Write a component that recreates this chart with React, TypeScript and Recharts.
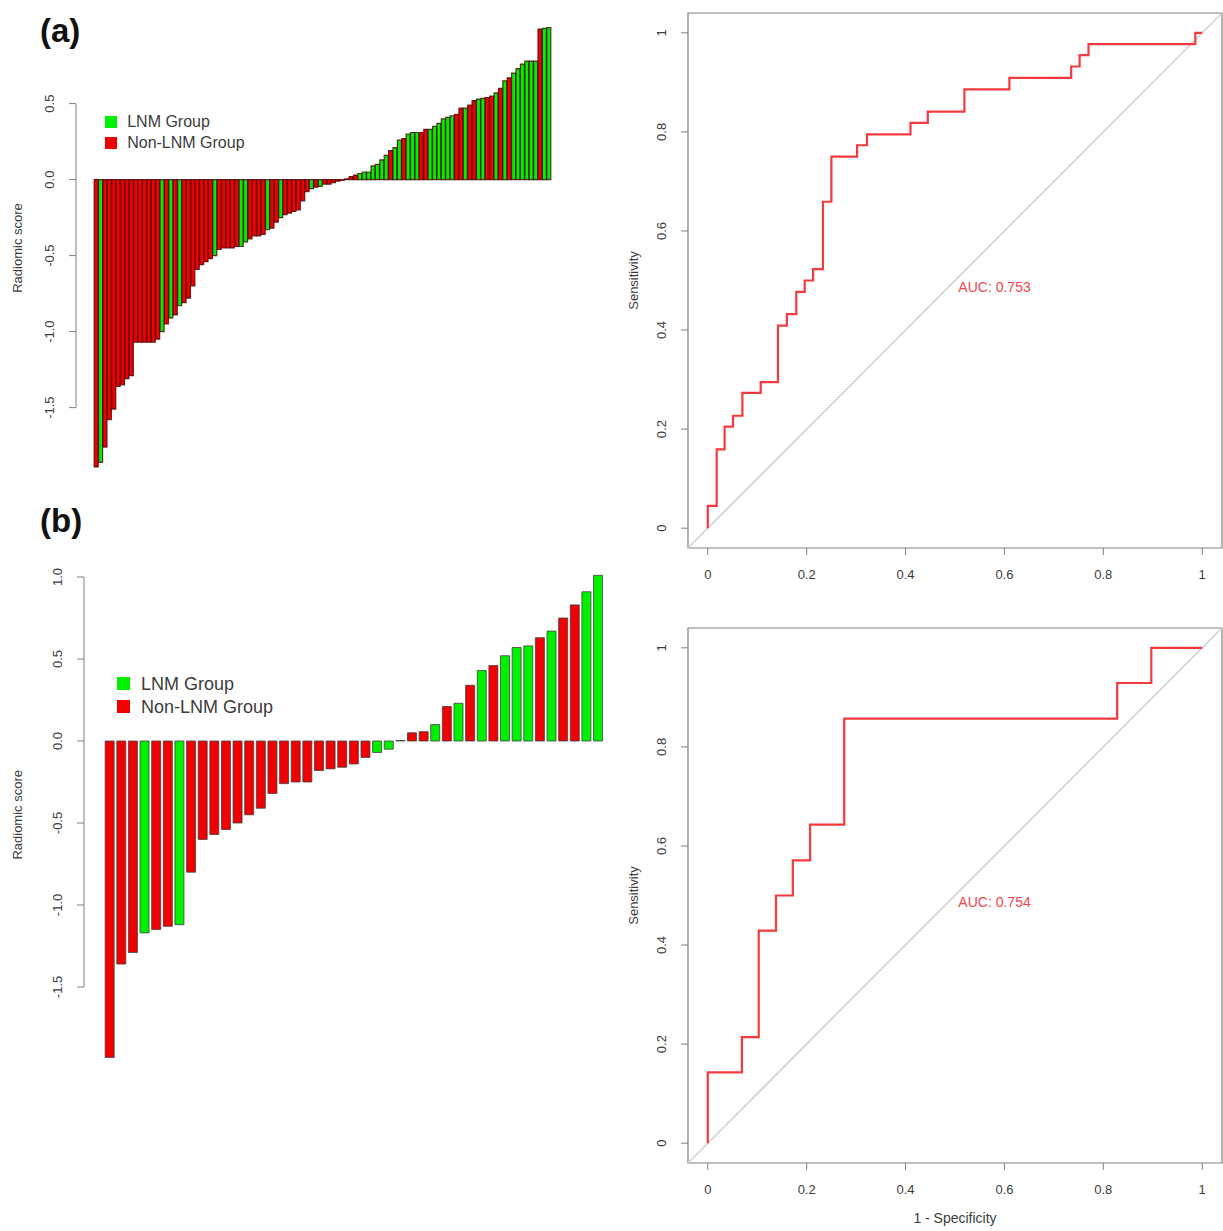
import React from "react";
import {
  Bar,
  BarChart,
  Cell,
  Legend,
  Line,
  LineChart,
  ReferenceArea,
  ReferenceDot,
  ReferenceLine,
  XAxis,
  YAxis,
} from "recharts";

const FONT = "'Liberation Sans', Arial, Helvetica, sans-serif";
const INK = "#3c3c3c";
const AXIS = "#808080";

const groupLabels = ["LNM Group", "Non-LNM Group"];
const groupColors = ["#00f000", "#f00000"];

// (a) training cohort, sorted radiomic scores; L = LNM, N = non-LNM
const trainScore = [
  -1.89, -1.86, -1.76, -1.58, -1.51, -1.36, -1.35, -1.31, -1.29, -1.07,
  -1.07, -1.07, -1.07, -1.07, -1.05, -1.0, -0.95, -0.91, -0.89, -0.83,
  -0.81, -0.78, -0.7, -0.59, -0.56, -0.54, -0.52, -0.5, -0.46, -0.45,
  -0.45, -0.45, -0.44, -0.44, -0.41, -0.39, -0.37, -0.37, -0.36, -0.33,
  -0.32, -0.28, -0.25, -0.23, -0.22, -0.21, -0.2, -0.14, -0.08, -0.06,
  -0.05, -0.045, -0.03, -0.03, -0.02, -0.01, -0.005, 0.005, 0.02, 0.03,
  0.04, 0.05, 0.05, 0.09, 0.1, 0.13, 0.16, 0.19, 0.21, 0.26,
  0.27, 0.3, 0.31, 0.31, 0.31, 0.33, 0.33, 0.35, 0.37, 0.4,
  0.41, 0.42, 0.43, 0.47, 0.47, 0.49, 0.52, 0.53, 0.535, 0.54,
  0.55, 0.57, 0.6, 0.65, 0.67, 0.7, 0.73, 0.76, 0.78, 0.78,
  0.78, 0.99, 0.995, 1.0,
];
const trainGroup = [
  "N", "L", "N", "N", "N", "N", "N", "N", "N", "N",
  "N", "N", "N", "N", "N", "L", "N", "L", "N", "L",
  "N", "N", "N", "N", "N", "N", "N", "L", "N", "N",
  "N", "N", "N", "L", "L", "N", "N", "N", "N", "L",
  "N", "N", "L", "N", "N", "N", "N", "N", "N", "L",
  "N", "L", "N", "N", "N", "N", "N", "N", "N", "N",
  "L", "L", "L", "L", "L", "L", "L", "N", "L", "L",
  "N", "L", "L", "L", "N", "N", "L", "L", "L", "L",
  "L", "L", "N", "N", "L", "N", "N", "L", "L", "N",
  "N", "L", "N", "L", "N", "L", "L", "L", "L", "L",
  "L", "N", "L", "L",
];

// (b) validation cohort
const testScore = [
  -1.93, -1.36, -1.29, -1.17, -1.15, -1.13, -1.12, -0.8, -0.6, -0.57,
  -0.54, -0.5, -0.45, -0.41, -0.32, -0.26, -0.25, -0.25, -0.18, -0.17,
  -0.16, -0.14, -0.1, -0.07, -0.05, 0.003, 0.05, 0.057, 0.1, 0.21,
  0.23, 0.34, 0.43, 0.46, 0.52, 0.57, 0.58, 0.63, 0.67, 0.75,
  0.83, 0.91, 1.01,
];
const testGroup = [
  "N", "N", "N", "L", "N", "N", "L", "N", "N", "N",
  "N", "N", "N", "N", "N", "N", "N", "N", "N", "N",
  "N", "N", "N", "L", "L", "L", "N", "N", "L", "N",
  "L", "N", "L", "N", "L", "L", "L", "N", "L", "N",
  "N", "L", "L",
];

// ROC coordinates (1 - specificity, sensitivity)
const trainFpr = [
  0, 0, 0.018, 0.018, 0.034, 0.034, 0.051, 0.051, 0.07, 0.07,
  0.107, 0.107, 0.142, 0.142, 0.16, 0.16, 0.179, 0.179, 0.196, 0.196,
  0.213, 0.213, 0.233, 0.233, 0.25, 0.25, 0.302, 0.302, 0.322, 0.322,
  0.41, 0.41, 0.445, 0.445, 0.519, 0.519, 0.61, 0.61, 0.735, 0.735,
  0.752, 0.752, 0.77, 0.77, 0.986, 0.986, 1,
];
const trainTpr = [
  0, 0.045, 0.045, 0.159, 0.159, 0.205, 0.205, 0.227, 0.227, 0.273,
  0.273, 0.295, 0.295, 0.409, 0.409, 0.432, 0.432, 0.477, 0.477, 0.5,
  0.5, 0.523, 0.523, 0.659, 0.659, 0.75, 0.75, 0.773, 0.773, 0.795,
  0.795, 0.818, 0.818, 0.841, 0.841, 0.886, 0.886, 0.909, 0.909, 0.932,
  0.932, 0.955, 0.955, 0.977, 0.977, 1, 1,
];
const testFpr = [
  0, 0, 0.069, 0.069, 0.103, 0.103, 0.138, 0.138, 0.172, 0.172,
  0.207, 0.207, 0.276, 0.276, 0.828, 0.828, 0.897, 0.897, 1,
];
const testTpr = [
  0, 0.143, 0.143, 0.214, 0.214, 0.429, 0.429, 0.5, 0.5, 0.571,
  0.571, 0.643, 0.643, 0.857, 0.857, 0.929, 0.929, 1, 1,
];

const trainTicks = [-1.5, -1.0, -0.5, 0.0, 0.5];
const testTicks = [-1.5, -1.0, -0.5, 0.0, 0.5, 1.0];
const rocTicks = [0, 0.2, 0.4, 0.6, 0.8, 1];

function VerticalTitle(props: any) {
  const { viewBox, value, dx, fontSize } = props;
  const x = viewBox.x + dx;
  const y = viewBox.y + viewBox.height / 2;
  return (
    <text
      x={x}
      y={y}
      transform={`rotate(-90 ${x} ${y})`}
      textAnchor="middle"
      fontFamily={FONT}
      fontSize={fontSize}
      fill={INK}
    >
      {value}
    </text>
  );
}

function BottomTitle(props: any) {
  const { viewBox, value, dy, fontSize } = props;
  return (
    <text
      x={viewBox.x + viewBox.width / 2}
      y={viewBox.y + dy}
      textAnchor="middle"
      fontFamily={FONT}
      fontSize={fontSize}
      fill={INK}
    >
      {value}
    </text>
  );
}

// rotated y tick label (R style, las = 0); first tick also draws the axis line
function RotatedTick(props: any) {
  const { x, y, payload, index, fmt, fontSize, axisGap, spanPx } = props;
  return (
    <g>
      {index === 0 && spanPx ? (
        <line x1={x + axisGap} x2={x + axisGap} y1={y} y2={y - spanPx} stroke={AXIS} />
      ) : null}
      <text
        x={x}
        y={y}
        transform={`rotate(-90 ${x} ${y})`}
        textAnchor="middle"
        fontFamily={FONT}
        fontSize={fontSize}
        fill={INK}
      >
        {fmt(payload.value)}
      </text>
    </g>
  );
}

function GroupKey({ fontSize, box, row }: any) {
  return (
    <div style={{ fontFamily: FONT, fontSize, color: INK, lineHeight: 1, textAlign: "left" }}>
      {groupLabels.map((g, i) => (
        <div key={g} style={{ display: "flex", alignItems: "center", height: row }}>
          <span
            style={{
              display: "inline-block",
              width: box,
              height: box,
              background: groupColors[i],
              marginRight: box * 0.85,
            }}
          />
          {g}
        </div>
      ))}
    </div>
  );
}

function ScorePanel(props: any) {
  const {
    scores, groups, width, height, margin, domain, ticks, yAxisWidth, pad,
    gap, edge, edgeWidth, legendAt, legendFont, legendBox, legendRow,
  } = props;
  const data = scores.map((s: number, i: number) => ({ id: i, score: s, group: groups[i] }));
  const plotH = height - margin.top - margin.bottom;
  const spanPx = ((ticks[ticks.length - 1] - ticks[0]) * plotH) / (domain[1] - domain[0]);
  const fmt = (v: number) => v.toFixed(1);
  return (
    <BarChart width={width} height={height} data={data} margin={margin} barCategoryGap={gap}>
      <XAxis dataKey="id" hide padding={{ left: pad, right: pad }} />
      <YAxis
        type="number"
        domain={domain}
        ticks={ticks}
        width={yAxisWidth}
        axisLine={false}
        tickLine={{ stroke: AXIS }}
        tickSize={7}
        tickMargin={15}
        allowDataOverflow
        tick={<RotatedTick fmt={fmt} fontSize={13} axisGap={22} spanPx={spanPx} />}
        label={<VerticalTitle value="Radiomic score" dx={22} fontSize={13} />}
      />
      <Legend
        layout="horizontal"
        verticalAlign="middle"
        align="center"
        wrapperStyle={{ left: legendAt[0], top: legendAt[1], width: "auto" }}
        content={<GroupKey fontSize={legendFont} box={legendBox} row={legendRow} />}
      />
      <Bar dataKey="score" isAnimationActive={false} stroke={edge} strokeWidth={edgeWidth}>
        {data.map((d: any) => (
          <Cell key={d.id} fill={d.group === "L" ? groupColors[0] : groupColors[1]} />
        ))}
      </Bar>
    </BarChart>
  );
}

function RocPanel(props: any) {
  const { fpr, tpr, auc, width, height, margin, xAxisHeight, xTitle } = props;
  const data = fpr.map((f: number, i: number) => ({ fpr: f, tpr: tpr[i] }));
  const fmt = (v: number) => String(v);
  return (
    <LineChart width={width} height={height} data={data} margin={margin}>
      <XAxis
        type="number"
        dataKey="fpr"
        domain={[-0.04, 1.04]}
        ticks={rocTicks}
        allowDataOverflow
        axisLine={false}
        tickLine={{ stroke: AXIS }}
        tickSize={7}
        tickMargin={15}
        height={xAxisHeight}
        tick={{ fontFamily: FONT, fontSize: 13, fill: INK }}
        label={xTitle ? <BottomTitle value={xTitle} dy={60} fontSize={14} /> : undefined}
      />
      <YAxis
        type="number"
        domain={[-0.04, 1.04]}
        ticks={rocTicks}
        allowDataOverflow
        width={60}
        axisLine={false}
        tickLine={{ stroke: AXIS }}
        tickSize={7}
        tickMargin={15}
        tick={<RotatedTick fmt={fmt} fontSize={13} axisGap={22} spanPx={0} />}
        label={<VerticalTitle value="Sensitivity" dx={10} fontSize={13} />}
      />
      <ReferenceArea x1={-0.04} x2={1.04} y1={-0.04} y2={1.04} fill="none" stroke={AXIS} strokeWidth={1.2} fillOpacity={0} />
      <ReferenceLine
        segment={[
          { x: -0.04, y: -0.04 },
          { x: 1.04, y: 1.04 },
        ]}
        stroke="#cfcfcf"
        strokeWidth={1.5}
      />
      <Line
        dataKey="tpr"
        type="linear"
        stroke="#f43a3f"
        strokeWidth={2.2}
        dot={false}
        isAnimationActive={false}
      />
      <ReferenceDot
        x={0.58}
        y={0.486}
        r={0}
        fill="none"
        stroke="none"
        label={{ value: `AUC: ${auc}`, position: "center", fill: "#f0464b", fontSize: 14, fontFamily: FONT }}
      />
    </LineChart>
  );
}

const tag: React.CSSProperties = {
  position: "absolute",
  fontFamily: FONT,
  fontWeight: "bold",
  fontSize: 33,
  color: "#111",
  lineHeight: 1,
};

export default function App() {
  return (
    <div style={{ position: "absolute", left: 0, top: 0, width: 1223, height: 1231, background: "#fff", overflow: "hidden" }}>
      <div style={{ position: "absolute", left: 0, top: 0 }}>
        <ScorePanel
          scores={trainScore}
          groups={trainGroup}
          width={600}
          height={500}
          margin={{ top: 20, right: 31, bottom: 24, left: 0 }}
          domain={[-1.95, 1.05]}
          ticks={trainTicks}
          yAxisWidth={76}
          pad={18}
          gap="4%"
          edge="rgba(70,0,0,0.8)"
          edgeWidth={1.2}
          legendAt={[105, 111]}
          legendFont={16}
          legendBox={12}
          legendRow={21}
        />
      </div>
      <div style={{ position: "absolute", left: 0, top: 500 }}>
        <ScorePanel
          scores={testScore}
          groups={testGroup}
          width={640}
          height={600}
          margin={{ top: 60.6, right: 16, bottom: 31, left: 0 }}
          domain={[-2.0, 1.1]}
          ticks={testTicks}
          yAxisWidth={84}
          pad={20}
          gap="10%"
          edge="#404040"
          edgeWidth={0.8}
          legendAt={[117, 172]}
          legendFont={18}
          legendBox={13}
          legendRow={23}
        />
      </div>
      <div style={{ position: "absolute", left: 600, top: 0 }}>
        <RocPanel
          fpr={trainFpr}
          tpr={trainTpr}
          auc="0.753"
          width={623}
          height={600}
          margin={{ top: 13, right: 1, bottom: 12, left: 28 }}
          xAxisHeight={40}
        />
      </div>
      <div style={{ position: "absolute", left: 600, top: 615 }}>
        <RocPanel
          fpr={testFpr}
          tpr={testTpr}
          auc="0.754"
          width={623}
          height={616}
          margin={{ top: 13, right: 1, bottom: 5, left: 28 }}
          xAxisHeight={63}
          xTitle="1 - Specificity"
        />
      </div>
      <div style={{ ...tag, left: 40, top: 14 }}>(a)</div>
      <div style={{ ...tag, left: 40, top: 504 }}>(b)</div>
    </div>
  );
}
